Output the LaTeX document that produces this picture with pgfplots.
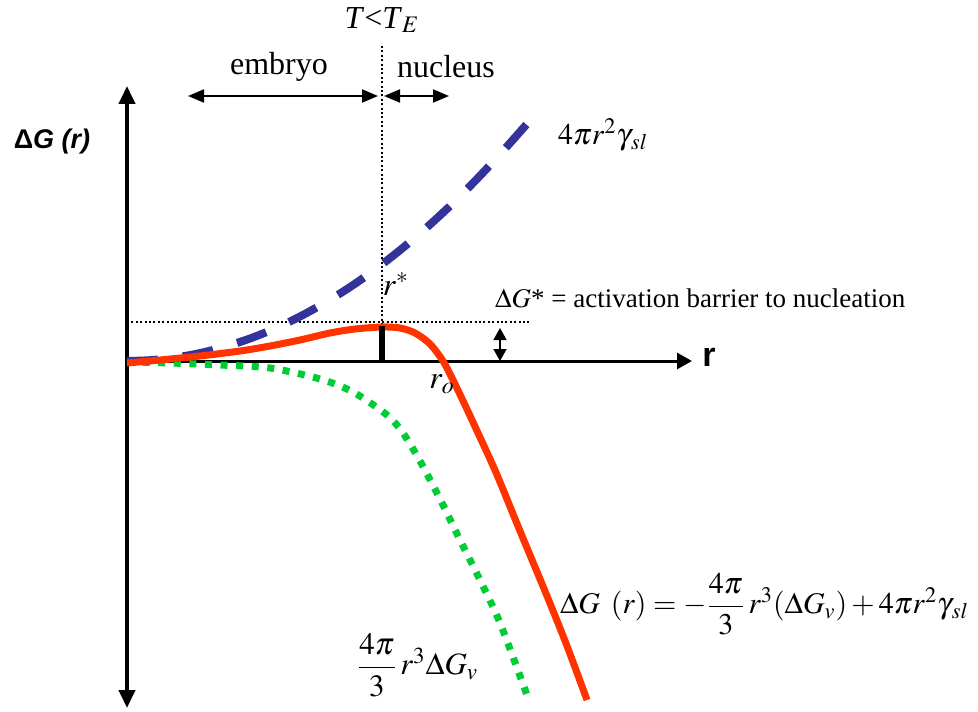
\documentclass[border=0pt]{standalone}
\usepackage{amsmath}
\usepackage{mathptmx}
\usepackage[no-math]{fontspec}
\setmainfont{Liberation Serif}
\newfontfamily\arialfont{Liberation Sans}
\usepackage{pgfplots}
\pgfplotsset{compat=1.18}
\usetikzlibrary{arrows.meta}

\definecolor{gred}{RGB}{255,51,0}
\definecolor{gblue}{RGB}{51,51,153}
\definecolor{ggreen}{RGB}{0,204,51}

\begin{document}
\begin{tikzpicture}
\begin{axis}[
  hide axis, scale only axis,
  width=489pt, height=355.5pt,
  xmin=0, xmax=978, ymin=0, ymax=711,
  y dir=reverse, clip=false,
]
% coordinate axes
\draw[line width=2pt, {Triangle[length=9pt,width=8pt]}-{Triangle[length=9pt,width=8pt]}]
  (127,708) -- (127,86);
\draw[line width=1.5pt, -{Triangle[length=7.5pt,width=8pt]}] (126,361) -- (692,361);

% guide lines
\draw[line width=0.8pt, dash pattern=on 1pt off 1.2pt] (382,46) -- (382,327);
\draw[line width=0.8pt, dash pattern=on 1pt off 1.2pt] (127,322) -- (531,322);

% embryo / nucleus ranges
\draw[line width=1pt, {Triangle[length=8pt,width=6.5pt]}-{Triangle[length=8pt,width=6.5pt]}]
  (188,96) -- (378,96);
\draw[line width=1pt, {Triangle[length=8pt,width=6.5pt]}-{Triangle[length=8pt,width=6.5pt]}]
  (384,96) -- (449,96);

% volume term
\addplot[ggreen, line width=3.5pt, dash pattern=on 3.5pt off 4.3pt, smooth, tension=0.5]
  coordinates {(127,362) (170,363) (220,365) (270,368) (320,379) (353,392)
               (387,415) (403,433) (420,461) (440,499) (460,540) (480,580)
               (500,623) (527,695)};

% surface term
\addplot[gblue, line width=4pt, dash pattern=on 15.5pt off 12.5pt, smooth, tension=0.5]
  coordinates {(127,361) (150,360.2) (175,357.6) (200,353.1) (225,346.7)
               (250,338.5) (275,328.5) (300,316.5) (325,302.7) (350,287.1)
               (375,269.6) (400,250.2) (425,229.0) (450,206.0) (475,181.0)
               (500,154.3) (528,122.7)};

% total free energy
\addplot[gred, line width=3.5pt, smooth, tension=0.5]
  coordinates {(127,363) (160,360) (200,356) (240,351) (270,346) (300,340)
               (330,333) (355,329) (382,327) (400,328) (415,333) (430,344)
               (443,361) (453,380) (465,405) (478,433) (490,459) (500,482)
               (520,531) (547,596) (567,646) (587,700)};

% critical radius marker and barrier height
\draw[line width=3pt] (382,326) -- (382,361);
\draw[line width=0.8pt, {Triangle[length=6pt,width=6.5pt]}-{Triangle[length=6pt,width=6.5pt]}]
  (500,328) -- (500,361);

% labels
\node[font=\fontsize{16}{19}\selectfont] at (382,20) {\textit{T}<\textit{T}$_{E}$};
\node[font=\fontsize{16}{19}\selectfont] at (279,67) {embryo};
\node[font=\fontsize{16}{19}\selectfont] at (446,67) {nucleus};
\node[font=\arialfont\bfseries\itshape\fontsize{13.5}{16}\selectfont] at (52,142) {{\upshape Δ}G (r)};
\node[font=\arialfont\bfseries\fontsize{17}{20}\selectfont] at (709,357) {r};
\node[font=\fontsize{15}{18}\selectfont, anchor=west] at (551,135) {$4\pi r^2\gamma_{\,sl}$};
\node[font=\fontsize{16}{19}\selectfont] at (396,284) {$r^*$};
\node[font=\fontsize{16}{19}\selectfont] at (442,384) {$r_o$};
\node[font=\fontsize{13.5}{16}\selectfont, anchor=west] at (488,298)
  {$\Delta G$* = activation barrier to nucleation};
\node[font=\fontsize{15}{18}\selectfont, anchor=west] at (553,604)
  {$\Delta G\ \,(r) = -\dfrac{4\pi}{3}\,r^{3}(\Delta G_v) + 4\pi r^{2}\gamma_{\,sl}$};
\node[font=\fontsize{15.5}{18}\selectfont, anchor=west] at (350,665)
  {$\dfrac{4\pi}{3}\,r^{3}\Delta G_v$};
\end{axis}
\pgfresetboundingbox
\useasboundingbox (current axis.south west) rectangle (current axis.north east);
\end{tikzpicture}
\end{document}
